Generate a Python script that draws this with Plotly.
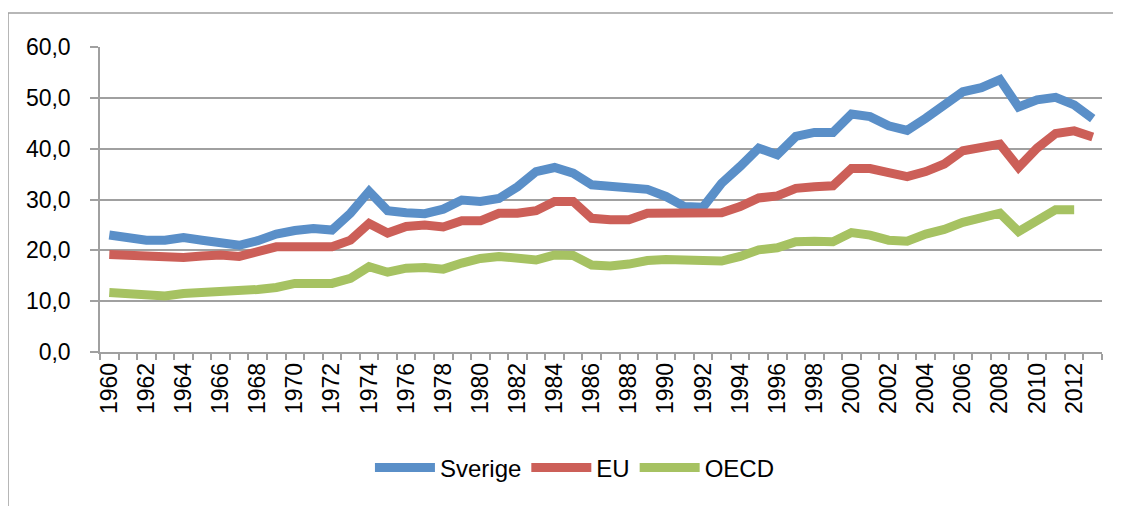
import plotly.graph_objects as go

years = list(range(1960, 2014))

sverige = [23.0, 22.4, 22.0, 22.0, 22.5, 22.0, 21.5, 21.0, 21.9, 23.2,
           23.9, 24.3, 24.0, 27.3, 31.6, 27.8, 27.4, 27.2, 28.1, 29.9,
           29.6, 30.2, 32.5, 35.5, 36.3, 35.2, 32.9, 32.5, 32.2, 32.0,
           30.6, 28.6, 28.5, 33.2, 36.5, 40.1, 38.8, 42.4, 43.2, 43.2,
           46.8, 46.3, 44.5, 43.6, 46.0, 48.4, 51.2, 52.0, 53.6, 48.2,
           49.6, 50.1, 48.6, 45.9]

eu = [19.2, 19.0, 18.6, 18.6, 18.6, 18.9, 19.1, 18.8, 19.7, 20.7,
      20.7, 20.7, 20.7, 22.0, 25.3, 23.4, 24.7, 25.0, 24.6, 25.8,
      25.8, 27.3, 27.3, 27.8, 29.6, 29.6, 26.3, 26.0, 26.0, 27.3,
      27.3, 27.3, 27.0, 27.4, 28.6, 30.3, 30.7, 32.2, 32.5, 32.7,
      36.1, 36.1, 35.3, 34.5, 35.5, 37.0, 39.6, 40.1, 40.9, 36.3,
      40.1, 43.0, 43.5, 42.3]

oecd = [11.7, 11.4, 11.2, 11.0, 11.5, 11.7, 11.9, 11.7, 12.3, 12.7,
        13.5, 13.5, 13.5, 14.5, 16.8, 15.7, 16.5, 16.6, 16.3, 17.5,
        18.4, 18.8, 18.4, 18.1, 19.1, 19.0, 17.1, 16.9, 17.3, 18.0,
        18.2, 18.1, 17.9, 17.9, 18.8, 20.1, 20.5, 21.7, 21.8, 21.7,
        23.5, 23.0, 22.0, 21.8, 23.2, 24.1, 25.5, 26.4, 27.3, 23.7,
        26.0, 28.0, 28.0, None]

x_labels = [str(y) for y in range(1960, 2014, 2)]
x_label_vals = list(range(1960, 2014, 2))

series = [("Sverige", sverige, "#5A8FC8"),
          ("EU", eu, "#CC5F58"),
          ("OECD", oecd, "#A6C262")]

fig = go.Figure()
for name, vals, col in series:
    fig.add_trace(go.Scatter(x=years, y=vals, name=name, mode="lines",
                             line=dict(color=col, width=9),
                             connectgaps=False))

grid = "#A0A0A0"
font = "Liberation Sans"

fig.update_layout(
    width=1113, height=498,
    margin=dict(l=92, r=19, t=39, b=154),
    paper_bgcolor="white", plot_bgcolor="white",
    separators=", ",
    font=dict(family=font, size=23, color="black"),
    showlegend=True,
    legend=dict(orientation="h", x=0.474, xanchor="center", y=-0.38,
                yanchor="middle", font=dict(family=font, size=24, color="black"),
                itemwidth=60, tracegroupgap=0),
    xaxis=dict(range=[1959.5, 2013.5], tickmode="array",
               tickvals=x_label_vals, ticktext=x_labels, tickangle=-90,
               ticks="", showgrid=False, zeroline=False,
               showline=True, linecolor=grid, linewidth=1.5,
               tickfont=dict(family=font, size=23, color="black"),
               minor=dict(tick0=1959.5, dtick=1, ticks="outside", ticklen=6,
                          tickcolor=grid, tickwidth=1.5, showgrid=False)),
    yaxis=dict(range=[0, 60], dtick=10, tickformat=".1f",
               showgrid=True, gridcolor=grid, gridwidth=1.5,
               zeroline=False, showline=True, linecolor=grid, linewidth=1.5,
               ticks="outside", ticklen=8, tickcolor=grid, tickwidth=1.5,
               ticklabelstandoff=15,
               tickfont=dict(family=font, size=23, color="black")),
)

# outer chart frame (partially visible, like the cropped original)
fig.add_shape(type="path", xref="paper", yref="paper",
              path="M -0.0918 -1 L -0.0918 1.1115 L 1.2 1.1115",
              line=dict(color=grid, width=1.5))

fig.write_html("out.html")
